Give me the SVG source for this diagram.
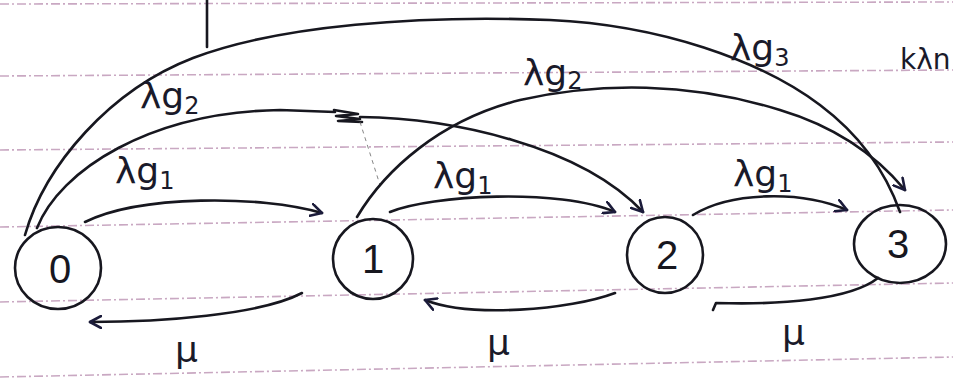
<svg xmlns="http://www.w3.org/2000/svg" width="953" height="383" viewBox="0 0 953 383">
<style>
.rule{stroke:#c9a8c2;stroke-width:1.6;stroke-dasharray:9 3 2 3;fill:none}
.ink{stroke:#17171f;stroke-width:2.6;fill:none;stroke-linecap:round;stroke-linejoin:round}
.node{stroke:#17171f;stroke-width:2.6;fill:none}
.lbl{font-family:"DejaVu Sans","Liberation Sans",sans-serif;font-size:36px;fill:#1a1a2a}
.nlbl{font-family:"Liberation Sans","DejaVu Sans",sans-serif;font-size:40px;fill:#17171f;text-anchor:middle}
.sub{font-size:24px}
</style>
<defs>
<marker id="ah" viewBox="0 0 14 14" refX="12" refY="7" markerWidth="14" markerHeight="14" markerUnits="userSpaceOnUse" orient="auto">
<path d="M1 1 L12 7 L1 13" fill="none" stroke="#1b1b3a" stroke-width="2.6" stroke-linecap="round" stroke-linejoin="round"/>
</marker>
</defs>
<rect width="953" height="383" fill="#ffffff"/>
<g id="paper">
<line class="rule" x1="0" y1="4" x2="953" y2="2"/>
<line class="rule" x1="0" y1="76" x2="953" y2="70"/>
<line class="rule" x1="0" y1="150" x2="953" y2="142"/>
<line class="rule" x1="0" y1="227" x2="953" y2="210"/>
<line class="rule" x1="0" y1="302" x2="953" y2="283"/>
<line class="rule" x1="0" y1="377" x2="953" y2="357"/>
<line class="ink" x1="207" y1="0" x2="207" y2="47"/>
<text class="lbl" x="900" y="69" style="font-size:28px">kλn</text>
</g>
<g id="connectors">
<path class="ink" d="M85 222 C140 195 260 195 322 213" marker-end="url(#ah)"/>
<path class="ink" d="M302 293 C260 315 160 322 90 322" marker-end="url(#ah)"/>
<path class="ink" d="M390 212 C430 195 560 188 615 212" marker-end="url(#ah)"/>
<path class="ink" d="M615 293 C570 310 470 318 425 300" marker-end="url(#ah)"/>
<path class="ink" d="M693 215 C730 192 800 190 847 210" marker-end="url(#ah)"/>
<path class="ink" d="M878 278 C850 300 780 305 716 303 L713 310"/>
<path class="ink" d="M37 228 C60 170 150 112 280 110 L335 112"/>
<path class="ink" d="M334 110 L358 114 L336 116 L360 119 L338 121 L362 122" stroke-width="2.2"/>
<path class="ink" d="M360 117 C450 118 580 145 643 212" stroke-width="3" marker-end="url(#ah)"/>
<path d="M360 122 L380 185" stroke="#666" stroke-width="0.8" stroke-dasharray="4 4" fill="none"/>
<path class="ink" d="M25 235 C45 165 110 90 193 58 C280 25 420 15 550 20 C660 25 760 60 820 105 C860 135 885 170 900 212"/>
<path class="ink" d="M357 217 C385 170 440 120 520 100 C600 82 690 82 780 110 C840 128 880 160 905 190" marker-end="url(#ah)"/>
<text class="lbl" x="140" y="108">λg<tspan class="sub" dy="6">2</tspan></text>
<text class="lbl" x="115" y="183">λg<tspan class="sub" dy="6">1</tspan></text>
<text class="lbl" x="433" y="188">λg<tspan class="sub" dy="6">1</tspan></text>
<text class="lbl" x="733" y="186">λg<tspan class="sub" dy="6">1</tspan></text>
<text class="lbl" x="523" y="85">λg<tspan class="sub" dy="4">2</tspan></text>
<text class="lbl" x="730" y="60">λg<tspan class="sub" dy="6">3</tspan></text>
<text class="lbl" x="175" y="362">μ</text>
<text class="lbl" x="487" y="355">μ</text>
<text class="lbl" x="782" y="345">μ</text>
</g>
<g id="node0"><ellipse class="node" cx="58" cy="268" rx="43" ry="41"/><text class="nlbl" x="60" y="283">0</text></g>
<g id="node1"><circle class="node" cx="373" cy="259" r="40"/><text class="nlbl" x="373" y="273">1</text></g>
<g id="node2"><circle class="node" cx="665" cy="255" r="38"/><text class="nlbl" x="667" y="269">2</text></g>
<g id="node3"><ellipse class="node" cx="900" cy="244" rx="46" ry="39"/><text class="nlbl" x="898" y="258">3</text></g>
</svg>
